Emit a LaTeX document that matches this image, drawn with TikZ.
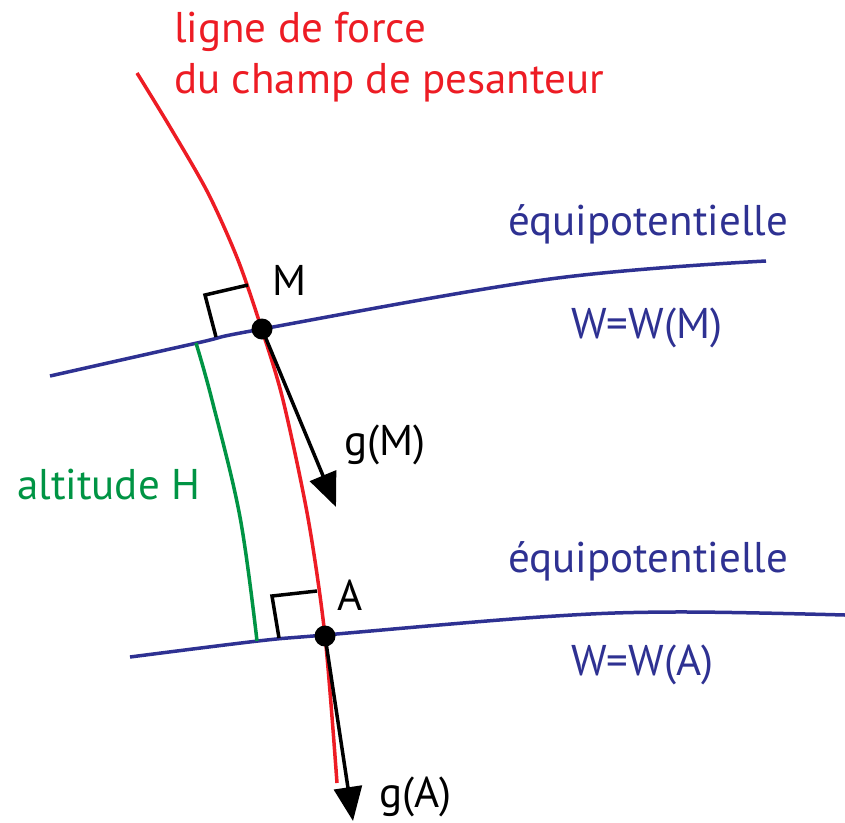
\documentclass[tikz,border=0pt]{standalone}
\usepackage{fontspec}
\setmainfont{PT Sans}
\usetikzlibrary{arrows.meta}
\definecolor{fred}{RGB}{237,28,36}
\definecolor{fblue}{RGB}{46,49,146}
\definecolor{fgreen}{RGB}{0,148,68}
\tikzset{
  lbl/.style={inner sep=0pt, anchor=base west, font=\fontsize{43}{50}\selectfont},
  redline/.style={fred, line width=3.5pt},
  blueline/.style={fblue, line width=3.5pt},
  greenline/.style={fgreen, line width=3.5pt},
  rmark/.style={black, line width=3.5pt},
  vec/.style={black, line width=3.5pt, -{Triangle[length=34pt,width=28pt]}},
  dotpt/.style={circle, fill=black, minimum size=21pt, inner sep=0pt},
}
\begin{document}
\begin{tikzpicture}[x=1pt,y=-1pt]
\useasboundingbox (0,0) rectangle (845,822);
% field line
\draw[redline] plot[smooth, tension=0.5] coordinates {(137,73) (170,127) (208,193) (238,260) (262,330) (283,400) (308,518) (325,636) (337,783)};
% equipotentials
\draw[blueline] plot[smooth, tension=0.6] coordinates {(50,376) (197,343) (262,329) (550,279) (766,261)};
\draw[blueline] plot[smooth, tension=0.6] coordinates {(130,657) (258,641) (325,635) (540,617) (673,612) (845,615)};
% altitude
\draw[greenline] plot[smooth, tension=0.6] coordinates {(196,343) (212,400) (240,517) (257,641)};
% right angle marks
\draw[rmark] (248,285) -- (205,295) -- (216,337);
\draw[rmark] (317,591) -- (272,596) -- (279,638);
% points
\node[dotpt] (M) at (262,329) {};
\node[dotpt] (A) at (325,636) {};
\coordinate (gMtip) at (336,507);
\coordinate (gAtip) at (353,821);
\draw[vec] (M.center) -- (gMtip);
\draw[vec] (A.center) -- (gAtip);
% labels
\node[lbl, fred] (t1) at (174,42) {ligne de force};
\node[lbl, fred] (t2) at (174,93) {du champ de pesanteur};
\node[lbl, fblue] (e1) at (508,235) {équipotentielle};
\node[lbl, fblue] (w1) at (571,338) {W=W(M)};
\node[lbl, fblue] (e2) at (508,572) {équipotentielle};
\node[lbl, fblue] (w2) at (571,675) {W=W(A)};
\node[lbl, fgreen] (h) at (17,499) {altitude H};
\node[lbl] (lM) at (272,295) {M};
\node[lbl] (lA) at (337,610) {A};
\node[lbl] (lgM) at (344,455) {g(M)};
\node[lbl] (lgA) at (379,807) {g(A)};
\end{tikzpicture}
\end{document}
